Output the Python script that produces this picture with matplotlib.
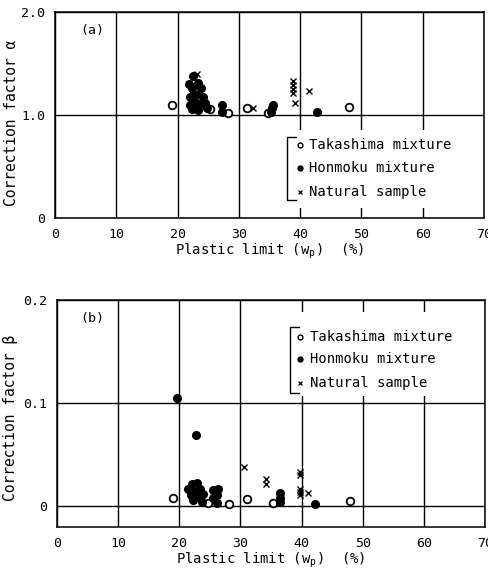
import matplotlib.pyplot as plt
from matplotlib.patches import Rectangle

plt.rcParams['font.family'] = ['DejaVu Sans Mono', 'DejaVu Sans']

# panel (a): correction factor alpha
tak_a_x = [19.1, 25.3, 28.3, 31.3, 34.8, 48.0]
tak_a_y = [1.10, 1.06, 1.02, 1.07, 1.02, 1.08]
hon_a_x = [22.5, 21.9, 23.3, 22.3, 23.8, 22.5, 23.5, 22.0, 24.2, 22.8, 22.0,
           23.7, 24.5, 22.3, 23.3, 24.8, 27.2, 27.3, 35.4, 35.6, 35.3, 42.7]
hon_a_y = [1.38, 1.30, 1.31, 1.26, 1.26, 1.19, 1.20, 1.17, 1.17, 1.13, 1.10,
           1.11, 1.12, 1.06, 1.05, 1.07, 1.10, 1.03, 1.07, 1.10, 1.03, 1.03]
nat_a_x = [23.2, 32.3, 38.8, 38.8, 38.8, 38.8, 39.2, 41.4]
nat_a_y = [1.40, 1.07, 1.33, 1.29, 1.25, 1.21, 1.12, 1.23]

# panel (b): correction factor beta
tak_b_x = [19.0, 24.7, 28.2, 31.1, 35.3, 48.0]
tak_b_y = [0.008, 0.003, 0.002, 0.007, 0.003, 0.005]
hon_b_x = [19.7, 22.8, 21.4, 22.0, 21.9, 22.5, 22.9, 23.4, 23.2, 23.8, 22.2,
           23.7, 25.5, 26.3, 26.1, 25.5, 26.1, 36.4, 36.4, 36.4, 42.2]
hon_b_y = [0.105, 0.069, 0.017, 0.022, 0.011, 0.014, 0.023, 0.017, 0.009, 0.012, 0.006,
           0.004, 0.016, 0.017, 0.011, 0.008, 0.003, 0.013, 0.008, 0.004, 0.002]
nat_b_x = [30.6, 34.2, 34.2, 39.7, 39.7, 39.7, 39.7, 39.7, 41.0]
nat_b_y = [0.038, 0.027, 0.022, 0.033, 0.030, 0.017, 0.014, 0.011, 0.013]

xticks = [0, 10, 20, 30, 40, 50, 60, 70]
legend_labels = ["Takashima mixture", "Honmoku mixture", "Natural sample"]

fig = plt.figure(figsize=(4.88, 5.69), dpi=100)
ax1 = fig.add_axes([55/488, 1-218/569, 429/488, 206/569])
ax2 = fig.add_axes([57/488, 1-527/569, 428/488, 227/569])


def style(ax, ylim, yticks, ylabels, ylabel):
    ax.set_xlim(0, 70)
    ax.set_ylim(*ylim)
    ax.set_xticks(xticks)
    ax.set_xticklabels([str(t) for t in xticks], fontsize=9.5)
    ax.set_yticks(yticks)
    ax.set_yticklabels(ylabels, fontsize=9.5)
    ax.tick_params(length=0, pad=7)
    ax.grid(True, color="black", linewidth=1.0)
    ax.set_axisbelow(True)
    for s in ax.spines.values():
        s.set_linewidth(1.1)
    ax.set_xlabel(r"Plastic limit ($\mathregular{w_p}$)  (%)", fontsize=10, labelpad=1)
    ax.set_ylabel(ylabel, fontsize=10.5)


def draw_points(ax, tx, ty, hx, hy, nx, ny):
    ax.plot(tx, ty, "o", mfc="white", mec="black", mew=1.3, ms=5.5, zorder=3)
    ax.plot(hx, hy, "o", color="black", ms=5.5, zorder=3)
    ax.plot(nx, ny, "x", color="black", mew=1.0, ms=4, zorder=3)


def draw_legend(ax, x0, rows, box, bracket):
    ax.add_patch(Rectangle((box[0], box[1]), box[2], box[3], transform=ax.transAxes,
                           facecolor="white", edgecolor="none", zorder=4))
    bx0, bx1, by0, by1 = bracket
    ax.plot([bx1, bx0, bx0, bx1], [by1, by1, by0, by0], color="black", lw=1.0,
            transform=ax.transAxes, zorder=5, clip_on=False)
    styles = [dict(marker="o", mfc="white", mec="black", mew=1.0, ms=3.5),
              dict(marker="o", color="black", ms=3.5),
              dict(marker="x", color="black", mew=0.9, ms=3.5)]
    for y, lab, st in zip(rows, legend_labels, styles):
        ax.plot([x0], [y], linestyle="none", transform=ax.transAxes, zorder=5, **st)
        ax.text(x0 + 0.022, y, lab, transform=ax.transAxes, fontsize=10,
                va="center", ha="left", zorder=5)


style(ax1, (0, 2.0), [0, 1.0, 2.0], ["0", "1.0", "2.0"], "Correction factor α")
ax1.yaxis.set_label_coords(-0.085, 0.46)
draw_points(ax1, tak_a_x, tak_a_y, hon_a_x, hon_a_y, nat_a_x, nat_a_y)
draw_legend(ax1, 0.571, [0.354, 0.243, 0.126],
            (0.536, 0.05, 0.43, 0.375), (0.541, 0.562, 0.087, 0.393))
ax1.text(0.06, 0.91, "(a)", transform=ax1.transAxes, fontsize=9.5, va="center")

style(ax2, (-0.02, 0.2), [0, 0.1, 0.2], ["0", "0.1", "0.2"], "Correction factor β")
ax2.yaxis.set_label_coords(-0.09, 0.48)
draw_points(ax2, tak_b_x, tak_b_y, hon_b_x, hon_b_y, nat_b_x, nat_b_y)
draw_legend(ax2, 0.568, [0.837, 0.740, 0.634],
            (0.544, 0.575, 0.42, 0.37), (0.544, 0.565, 0.59, 0.881))
ax2.text(0.055, 0.92, "(b)", transform=ax2.transAxes, fontsize=9.5, va="center")

fig.savefig("out.png", dpi=100)
